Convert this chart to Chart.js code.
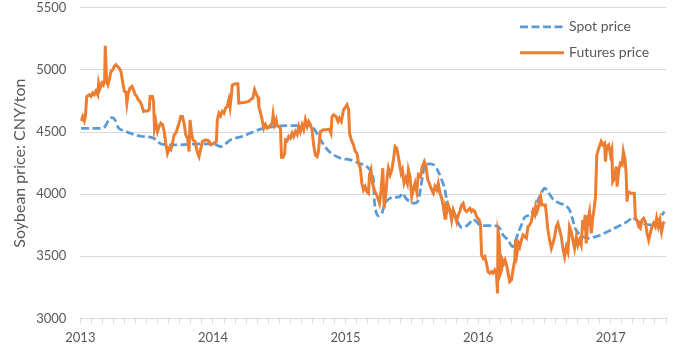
<!DOCTYPE html>
<html>
<head>
<meta charset="utf-8">
<script src="https://cdn.jsdelivr.net/npm/chart.js@4.4.0/dist/chart.umd.min.js"></script>
<style>
  html, body { margin: 0; padding: 0; background: #fff; }
  #wrap { width: 674px; height: 353px; }
</style>
</head>
<body>
<div id="wrap"><canvas id="soy"></canvas></div>
<script>
// Soybean spot vs futures, decimal years on x
const seriesNames = ['Spot price', 'Futures price'];
const yearLabels  = [2013, 2014, 2015, 2016, 2017];

const spotT = [2013.005,2013.156,2013.186,2013.216,2013.238,2013.261,2013.283,2013.306,2013.351,2013.456,
  2013.554,2013.592,2013.622,2013.735,2013.908,2014.005,2014.058,2014.088,2014.133,2014.233,
  2014.308,2014.383,2014.459,2014.559,2014.710,2014.759,2014.797,2014.835,2014.885,2014.960,
  2015.035,2015.086,2015.135,2015.173,2015.198,2015.211,2015.218,2015.229,2015.248,2015.274,
  2015.298,2015.336,2015.374,2015.411,2015.429,2015.454,2015.486,2015.524,2015.549,2015.569,
  2015.586,2015.599,2015.637,2015.674,2015.699,2015.725,2015.750,2015.762,2015.774,2015.800,
  2015.825,2015.850,2015.875,2015.913,2015.938,2015.962,2015.988,2016.013,2016.075,2016.138,
  2016.163,2016.188,2016.226,2016.259,2016.276,2016.301,2016.326,2016.351,2016.389,2016.426,
  2016.451,2016.477,2016.501,2016.526,2016.564,2016.614,2016.665,2016.689,2016.710,2016.727,
  2016.752,2016.789,2016.827,2016.890,2016.940,2017.003,2017.053,2017.103,2017.140,2017.165,
  2017.195,2017.241,2017.316,2017.341,2017.379,2017.404];
const spotPrice = [4530,4530,4545,4600,4617,4600,4540,4520,4500,4466,
  4450,4415,4400,4397,4405,4405,4383,4400,4437,4469,
  4504,4531,4544,4552,4552,4531,4464,4397,4335,4290,
  4276,4255,4236,4209,4168,4101,3940,3860,3825,3846,
  3927,3967,3975,3980,4007,3967,3940,3927,3953,4061,
  4182,4236,4244,4228,4182,4115,4034,3953,3900,3859,
  3819,3766,3733,3744,3771,3798,3779,3752,3746,3744,
  3725,3671,3631,3577,3610,3685,3752,3814,3833,3887,
  3953,4007,4048,4020,3960,3927,3905,3873,3806,3739,
  3690,3658,3645,3658,3679,3712,3739,3766,3792,3814,
  3787,3766,3752,3766,3819,3860];

const futT = [2013.005,2013.018,2013.030,2013.038,2013.048,2013.068,2013.080,2013.093,2013.105,2013.118,
  2013.131,2013.138,2013.148,2013.163,2013.173,2013.183,2013.188,2013.198,2013.208,2013.218,
  2013.231,2013.244,2013.256,2013.268,2013.281,2013.293,2013.306,2013.319,2013.331,2013.344,
  2013.351,2013.361,2013.374,2013.389,2013.401,2013.414,2013.426,2013.436,2013.449,2013.462,
  2013.469,2013.477,2013.489,2013.507,2013.519,2013.526,2013.544,2013.552,2013.559,2013.569,
  2013.582,2013.594,2013.607,2013.620,2013.632,2013.644,2013.657,2013.669,2013.682,2013.695,
  2013.707,2013.720,2013.732,2013.744,2013.757,2013.770,2013.782,2013.795,2013.808,2013.820,
  2013.827,2013.840,2013.850,2013.865,2013.875,2013.885,2013.895,2013.920,2013.945,2013.968,
  2013.983,2014.008,2014.026,2014.033,2014.045,2014.058,2014.071,2014.083,2014.095,2014.108,
  2014.120,2014.129,2014.138,2014.146,2014.171,2014.188,2014.195,2014.233,2014.271,2014.283,
  2014.301,2014.314,2014.329,2014.340,2014.346,2014.359,2014.371,2014.383,2014.396,2014.409,
  2014.426,2014.447,2014.454,2014.464,2014.477,2014.484,2014.496,2014.509,2014.517,2014.529,
  2014.541,2014.547,2014.559,2014.571,2014.584,2014.597,2014.609,2014.622,2014.635,2014.647,
  2014.659,2014.672,2014.684,2014.697,2014.710,2014.722,2014.735,2014.747,2014.759,2014.772,
  2014.785,2014.795,2014.810,2014.835,2014.855,2014.877,2014.890,2014.898,2014.910,2014.928,
  2014.943,2014.953,2014.968,2014.985,2015.011,2015.023,2015.030,2015.043,2015.060,2015.073,
  2015.086,2015.098,2015.111,2015.123,2015.135,2015.148,2015.161,2015.173,2015.180,2015.191,
  2015.203,2015.216,2015.229,2015.244,2015.256,2015.268,2015.281,2015.291,2015.304,2015.314,
  2015.323,2015.336,2015.349,2015.361,2015.374,2015.386,2015.398,2015.406,2015.419,2015.429,
  2015.441,2015.454,2015.466,2015.474,2015.486,2015.499,2015.511,2015.524,2015.537,2015.549,
  2015.564,2015.579,2015.594,2015.607,2015.620,2015.632,2015.644,2015.662,2015.674,2015.687,
  2015.699,2015.712,2015.725,2015.737,2015.750,2015.757,2015.767,2015.774,2015.787,2015.800,
  2015.812,2015.825,2015.838,2015.850,2015.862,2015.875,2015.887,2015.900,2015.913,2015.925,
  2015.938,2015.950,2015.962,2015.975,2015.988,2016.008,2016.018,2016.026,2016.038,2016.050,
  2016.063,2016.075,2016.088,2016.101,2016.113,2016.126,2016.138,2016.146,2016.150,2016.158,
  2016.168,2016.176,2016.183,2016.193,2016.203,2016.214,2016.226,2016.238,2016.251,2016.263,
  2016.276,2016.283,2016.293,2016.304,2016.314,2016.326,2016.338,2016.351,2016.364,2016.376,
  2016.389,2016.401,2016.414,2016.426,2016.434,2016.444,2016.456,2016.464,2016.471,2016.481,
  2016.494,2016.507,2016.514,2016.526,2016.539,2016.552,2016.564,2016.577,2016.589,2016.601,
  2016.614,2016.627,2016.639,2016.652,2016.665,2016.677,2016.689,2016.702,2016.714,2016.727,
  2016.740,2016.752,2016.765,2016.777,2016.789,2016.797,2016.807,2016.815,2016.827,2016.840,
  2016.853,2016.865,2016.872,2016.885,2016.895,2016.910,2016.928,2016.940,2016.953,2016.960,
  2016.970,2016.985,2016.998,2017.008,2017.015,2017.028,2017.041,2017.048,2017.060,2017.073,
  2017.086,2017.095,2017.108,2017.116,2017.123,2017.131,2017.153,2017.178,2017.186,2017.198,
  2017.211,2017.223,2017.236,2017.248,2017.261,2017.274,2017.286,2017.298,2017.311,2017.323,
  2017.336,2017.346,2017.359,2017.371,2017.383,2017.396,2017.404];
const futPrice = [4590,4625,4590,4625,4786,4800,4786,4813,4800,4830,
  4800,4894,4850,4894,4880,4921,5195,4907,4880,4921,
  4988,5001,5028,5042,5028,5015,4988,4907,4830,4820,
  4733,4813,4853,4867,4840,4800,4786,4760,4746,4719,
  4692,4665,4670,4670,4680,4786,4786,4746,4531,4585,
  4505,4545,4572,4560,4505,4410,4330,4370,4357,4410,
  4477,4490,4531,4572,4625,4625,4572,4477,4450,4343,
  4598,4477,4437,4424,4370,4330,4303,4424,4437,4430,
  4397,4410,4424,4598,4652,4630,4665,4652,4693,4706,
  4760,4700,4786,4880,4888,4888,4733,4738,4746,4760,
  4773,4840,4800,4780,4706,4652,4598,4531,4560,4531,
  4545,4572,4639,4560,4598,4550,4545,4530,4298,4298,
  4330,4437,4430,4464,4450,4491,4464,4504,4480,4545,
  4504,4558,4518,4598,4545,4585,4560,4518,4397,4316,
  4303,4340,4504,4518,4518,4523,4490,4625,4639,4625,
  4585,4612,4585,4679,4719,4680,4491,4437,4397,4343,
  4330,4249,4209,4088,4034,4061,4020,4007,4155,4195,
  4088,4034,4007,3967,3927,4034,4209,3887,4007,4141,
  4209,4155,4195,4276,4383,4370,4303,4249,4168,4195,
  4088,4128,4088,4195,4141,3980,4034,4088,4020,4155,
  4141,4222,4262,4222,4115,4088,4048,4007,4061,4034,
  4088,4007,3967,3900,3806,3900,3873,3913,3873,3792,
  3873,3833,3779,3833,3860,3913,3927,3873,3860,3873,
  3887,3860,3873,3860,3819,3792,3752,3510,3483,3497,
  3443,3376,3363,3376,3363,3389,3363,3202,3698,3658,
  3363,3389,3470,3443,3470,3430,3363,3295,3309,3389,
  3470,3631,3524,3604,3577,3631,3671,3658,3645,3739,
  3752,3779,3860,3833,3900,3860,3900,3953,3980,3913,
  3913,3913,3846,3712,3631,3564,3604,3658,3739,3766,
  3712,3658,3564,3497,3577,3537,3739,3698,3631,3564,
  3658,3591,3631,3591,3792,3712,3833,3604,3792,3860,
  3685,3819,3860,3980,4316,4370,4424,4397,4410,4262,
  4383,4397,4316,4356,4101,4128,4222,4061,4195,4249,
  4235,4343,4276,4168,3940,4020,4007,4007,3806,3792,
  3739,3725,3792,3806,3779,3685,3631,3685,3739,3766,
  3739,3806,3739,3792,3698,3766,3779];

const yTicks = [3000, 3500, 4000, 4500, 5000, 5500];

const COL_SPOT = '#5B9BD5';
const COL_FUT  = '#ED7D31';
const TXT      = '#595959';
const GRID     = '#D9D9D9';
const FONT     = 'Lato, "Liberation Sans", sans-serif';

// x-axis in months since Jan 2013 so the minor ticks fall on whole steps
const startYear = yearLabels[0];
const toMonths = t => (t - startYear) * 12;
const pts = (ts, vs) => ts.map((t, i) => ({ x: toMonths(t), y: vs[i] }));

// legend drawn inside the plot, top right
const innerLegend = {
  id: 'innerLegend',
  afterDraw(chart) {
    const { ctx, chartArea } = chart;
    const x0 = chartArea.right - 146;
    const rows = [
      { ds: chart.data.datasets[1], y: chartArea.top + 19 },
      { ds: chart.data.datasets[0], y: chartArea.top + 45 }
    ];
    ctx.save();
    ctx.font = '14px ' + FONT;
    ctx.fillStyle = TXT;
    ctx.textBaseline = 'middle';
    rows.forEach(r => {
      ctx.beginPath();
      ctx.strokeStyle = r.ds.borderColor;
      ctx.lineWidth = r.ds.borderWidth;
      ctx.setLineDash(r.ds.borderDash || []);
      ctx.moveTo(x0, r.y);
      ctx.lineTo(x0 + 44, r.y);
      ctx.stroke();
      ctx.setLineDash([]);
      ctx.fillText(r.ds.label, x0 + 49, r.y);
    });
    ctx.restore();
  }
};

new Chart(document.getElementById('soy'), {
  type: 'line',
  data: {
    datasets: [
      {
        label: seriesNames[1],
        data: pts(futT, futPrice),
        borderColor: COL_FUT,
        borderWidth: 3,
        pointRadius: 0,
        tension: 0,
        order: 0
      },
      {
        label: seriesNames[0],
        data: pts(spotT, spotPrice),
        borderColor: COL_SPOT,
        borderWidth: 2.75,
        borderDash: [8, 3.5],
        pointRadius: 0,
        cubicInterpolationMode: 'monotone',
        order: 1
      }
    ]
  },
  options: {
    responsive: true,
    maintainAspectRatio: false,
    animation: false,
    devicePixelRatio: 1,
    layout: { padding: { left: 6, right: 8, top: 0, bottom: 0 } },
    plugins: { legend: { display: false }, tooltip: { enabled: false } },
    scales: {
      x: {
        type: 'linear',
        min: 0,
        max: 53,
        border: { color: GRID, width: 1 },
        grid: { drawOnChartArea: false, drawTicks: true, tickLength: 5, color: GRID },
        ticks: {
          stepSize: 1,
          autoSkip: false,
          maxRotation: 0,
          padding: 7,
          color: TXT,
          font: { family: FONT, size: 13 },
          callback: v => (Math.round(v) % 12 === 0 ? String(startYear + Math.round(v) / 12) : '')
        }
      },
      y: {
        min: yTicks[0],
        max: yTicks[yTicks.length - 1],
        border: { display: false },
        // invisible tick stubs give the gap between labels and plot
        grid: { color: GRID, drawTicks: true, tickLength: 14, tickColor: 'rgba(0,0,0,0)' },
        afterBuildTicks: axis => { axis.ticks = yTicks.map(v => ({ value: v })); },
        ticks: {
          padding: 0,
          color: TXT,
          font: { family: FONT, size: 13 },
          callback: v => String(v)
        },
        title: {
          display: true,
          text: 'Soybean price: CNY/ton',
          color: TXT,
          font: { family: FONT, size: 16 },
          padding: { top: 4, bottom: 7 }
        }
      }
    }
  },
  plugins: [innerLegend]
});
</script>
</body>
</html>
